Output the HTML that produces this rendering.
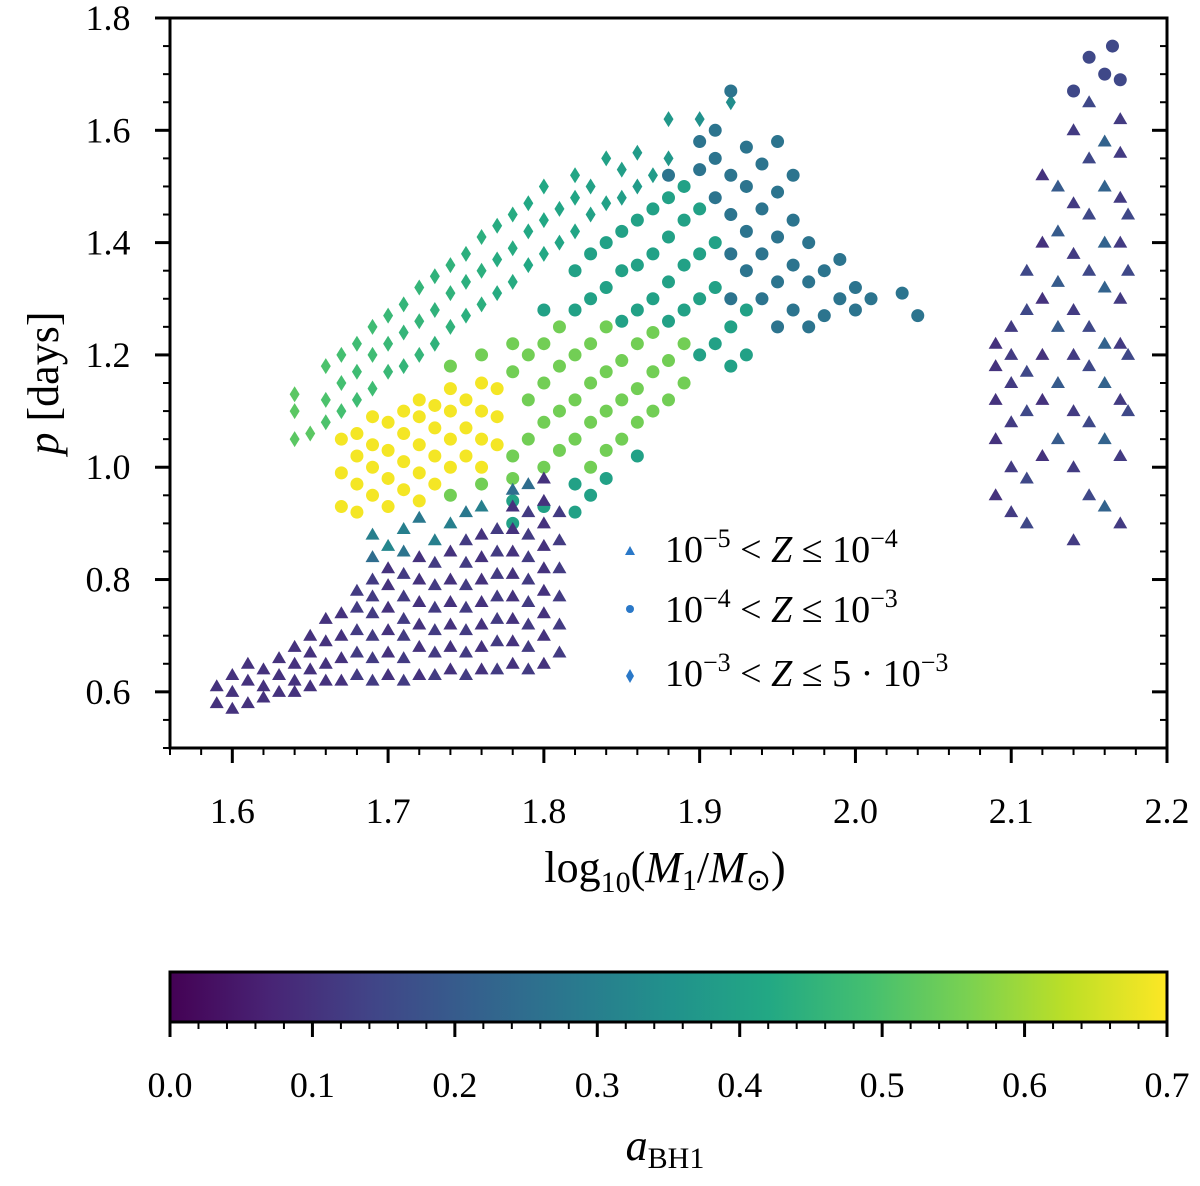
<!DOCTYPE html>
<html><head><meta charset="utf-8"><style>
body{margin:0;background:#fff;}
svg text{font-family:"Liberation Serif",serif;fill:#000;}
</style></head><body>
<svg id="chart" width="1200" height="1181" xmlns="http://www.w3.org/2000/svg">
<g id="marks"></g>
<g id="axes"></g>
<defs><linearGradient id="vir" x1="0" x2="1" y1="0" y2="0">
<stop offset="0" stop-color="#440154"/><stop offset="0.1" stop-color="#482475"/><stop offset="0.2" stop-color="#414487"/><stop offset="0.3" stop-color="#355f8d"/><stop offset="0.4" stop-color="#2a788e"/><stop offset="0.5" stop-color="#21918c"/><stop offset="0.6" stop-color="#22a884"/><stop offset="0.7" stop-color="#44bf70"/><stop offset="0.8" stop-color="#7ad151"/><stop offset="0.9" stop-color="#bddf26"/><stop offset="1" stop-color="#fde725"/></linearGradient></defs>
<rect x="170" y="972" width="997" height="50" fill="url(#vir)" stroke="#000" stroke-width="3"/>
<g id="legend">
<polygon points="625,555 630,546 635,555" fill="#2a78c8"/>
<circle cx="630" cy="609" r="4" fill="#2a78c8"/>
<polygon points="630,669 634,676 630,683 626,676" fill="#2a78c8"/>
<text x="665" y="562" font-size="38">10<tspan dy="-15" font-size="26">−5</tspan><tspan dy="15"> &lt; <tspan font-style="italic">Z</tspan> ≤ 10</tspan><tspan dy="-15" font-size="26">−4</tspan></text>
<text x="665" y="622" font-size="38">10<tspan dy="-15" font-size="26">−4</tspan><tspan dy="15"> &lt; <tspan font-style="italic">Z</tspan> ≤ 10</tspan><tspan dy="-15" font-size="26">−3</tspan></text>
<text x="665" y="686" font-size="38">10<tspan dy="-15" font-size="26">−3</tspan><tspan dy="15"> &lt; <tspan font-style="italic">Z</tspan> ≤ 5 · 10</tspan><tspan dy="-15" font-size="26">−3</tspan></text>
</g>
<text x="665" y="882" font-size="44" text-anchor="middle">log<tspan dy="10" font-size="30">10</tspan><tspan dy="-10">(<tspan font-style="italic">M</tspan><tspan dy="8" font-size="30">1</tspan><tspan dy="-8">/</tspan><tspan font-style="italic">M</tspan><tspan dy="8" font-size="30">⊙</tspan><tspan dy="-8">)</tspan></tspan></text>
<text transform="translate(58,383) rotate(-90)" font-size="44" text-anchor="middle"><tspan font-style="italic">p</tspan> [days]</text>
<text x="665" y="1160" font-size="44" text-anchor="middle"><tspan font-style="italic">a</tspan><tspan dy="8" font-size="30">BH1</tspan></text>
</svg>
<script>
// ---- data ----
const triBandX=[1.59,1.60,1.61,1.62,1.63,1.64,1.65,1.66,1.67,1.68,1.69,1.70,1.71,1.72,1.73,1.74,1.75,1.76,1.77,1.78,1.79,1.80,1.81];
const triBandY=[[0.58,0.61],[0.57,0.60,0.63],[0.58,0.62,0.65],[0.59,0.61,0.64],[0.60,0.63,0.66],[0.60,0.62,0.65,0.68],[0.61,0.64,0.67,0.70],[0.62,0.65,0.69,0.73],[0.62,0.66,0.70,0.74],[0.63,0.67,0.71,0.75,0.78],[0.62,0.66,0.70,0.74,0.77,0.80],[0.63,0.67,0.71,0.75,0.79,0.82],[0.62,0.66,0.70,0.73,0.77,0.81],[0.63,0.68,0.72,0.76,0.80,0.84],[0.63,0.67,0.71,0.75,0.79,0.83],[0.64,0.68,0.72,0.76,0.80,0.85],[0.63,0.67,0.71,0.75,0.79,0.83,0.87],[0.64,0.68,0.72,0.76,0.80,0.84,0.88],[0.64,0.69,0.73,0.77,0.81,0.85,0.89],[0.65,0.69,0.73,0.77,0.81,0.85,0.89,0.93],[0.64,0.68,0.72,0.76,0.80,0.84,0.88,0.92],[0.65,0.70,0.74,0.78,0.82,0.86,0.90,0.94,0.98],[0.67,0.72,0.77,0.82,0.87,0.92]];
const triBandC=[0.1,0.1,0.1,0.1,0.1,0.1,0.1,0.1,0.1,0.12,0.12,0.1,0.12,0.1,0.12,0.1,0.12,0.1,0.12,0.1,0.12,0.1,0.12];
const triTealX=[1.69,1.69,1.70,1.71,1.71,1.72,1.73,1.74,1.75,1.76,1.78,1.79];
const triTealY=[0.88,0.84,0.86,0.89,0.85,0.91,0.87,0.90,0.92,0.93,0.96,0.97];
const triTealC=[0.3,0.25,0.32,0.3,0.27,0.28,0.3,0.3,0.28,0.3,0.25,0.25];
const triRightX=[2.09,2.10,2.11,2.12,2.13,2.14,2.15,2.16,2.17,2.175];
const triRightY=[[0.95,1.05,1.12,1.18,1.22],[0.92,1.00,1.08,1.15,1.20,1.25],[0.90,0.98,1.10,1.17,1.28,1.35],[1.02,1.12,1.20,1.30,1.40,1.52],[1.05,1.15,1.25,1.33,1.42,1.50],[0.87,1.00,1.10,1.20,1.28,1.38,1.47,1.60],[0.95,1.08,1.18,1.25,1.35,1.45,1.55,1.65],[0.93,1.05,1.15,1.22,1.32,1.40,1.50,1.58],[0.90,1.02,1.12,1.22,1.30,1.40,1.48,1.56,1.62],[1.10,1.20,1.35,1.45]];
const triRightC=[0.1,0.12,0.15,0.1,0.2,0.12,0.15,0.22,0.12,0.15];
const circX={yellow:[1.67,1.68,1.69,1.70,1.71,1.72,1.73,1.74,1.75,1.76,1.77],
 green:[1.74,1.76,1.78,1.79,1.80,1.81,1.82,1.83,1.84,1.85,1.86,1.87,1.88,1.89],
 teal:[1.78,1.80,1.82,1.83,1.84,1.85,1.86,1.87,1.88,1.89,1.90,1.91,1.92,1.93],
 blue:[1.88,1.90,1.91,1.92,1.93,1.94,1.95,1.96,1.97,1.98,1.99,2.00,2.01,2.03,2.04],
 right:[2.14,2.15,2.16,2.165,2.17]};
const circY={yellow:[[0.93,0.99,1.05],[0.92,0.97,1.02,1.06],[0.95,1.00,1.04,1.09],[0.93,0.98,1.03,1.08],[0.96,1.01,1.06,1.10],[0.94,0.99,1.04,1.09,1.12],[0.97,1.02,1.07,1.11],[1.00,1.05,1.10,1.14],[1.02,1.07,1.12],[1.00,1.05,1.10,1.15],[1.04,1.09,1.14]],
 green:[[0.95,1.18],[0.97,1.20],[0.98,1.02,1.17,1.22],[1.05,1.12,1.20],[1.00,1.08,1.15,1.22],[1.03,1.10,1.18,1.25],[1.05,1.12,1.20],[1.00,1.08,1.15,1.22],[1.03,1.10,1.17,1.25],[1.05,1.12,1.19],[1.08,1.14,1.22],[1.10,1.17,1.24],[1.12,1.19],[1.15,1.22]],
 teal:[[0.90,0.94],[0.93,1.28],[0.92,0.97,1.28,1.35],[0.95,1.30,1.38],[0.98,1.32,1.40],[1.26,1.35,1.42],[1.02,1.28,1.36,1.44],[1.30,1.38,1.46],[1.26,1.33,1.41,1.48],[1.28,1.36,1.44,1.50],[1.20,1.30,1.38,1.46],[1.22,1.32,1.40],[1.18,1.25],[1.20,1.28]],
 blue:[[1.52],[1.53,1.58],[1.48,1.55,1.60],[1.30,1.38,1.45,1.52,1.67],[1.35,1.42,1.50,1.57],[1.30,1.38,1.46,1.54],[1.25,1.33,1.41,1.49,1.58],[1.28,1.36,1.44,1.52],[1.25,1.33,1.40],[1.27,1.35],[1.30,1.37],[1.28,1.32],[1.30],[1.31],[1.27]],
 right:[[1.67],[1.73],[1.70],[1.75],[1.69]]};
const circC={yellow:0.69,green:0.55,teal:0.4,blue:0.27,right:0.15};
const diaX=[1.64,1.65,1.66,1.67,1.68,1.69,1.70,1.71,1.72,1.73,1.74,1.75,1.76,1.77,1.78,1.79,1.80,1.81,1.82,1.83,1.84,1.85,1.86,1.87,1.88,1.90,1.92];
const diaY=[[1.05,1.10,1.13],[1.06],[1.08,1.12,1.18],[1.10,1.15,1.20],[1.12,1.17,1.22],[1.14,1.20,1.25],[1.17,1.22,1.27],[1.18,1.24,1.29],[1.20,1.26,1.32],[1.22,1.28,1.34],[1.25,1.31,1.36],[1.27,1.33,1.38],[1.29,1.35,1.41],[1.31,1.37,1.43],[1.33,1.39,1.45],[1.36,1.42,1.47],[1.38,1.44,1.50],[1.40,1.46],[1.42,1.48,1.52],[1.45,1.50],[1.47,1.55],[1.48,1.53],[1.50,1.56],[1.52],[1.55,1.62],[1.62],[1.65]];
const diaC=[0.52,0.52,0.5,0.49,0.48,0.48,0.47,0.46,0.46,0.45,0.45,0.44,0.44,0.43,0.43,0.42,0.42,0.41,0.41,0.4,0.4,0.39,0.38,0.38,0.37,0.35,0.34];
const xTicks=[1.6,1.7,1.8,1.9,2.0,2.1,2.2];
const xTickLabels=["1.6","1.7","1.8","1.9","2.0","2.1","2.2"];
const yTicks=[0.6,0.8,1.0,1.2,1.4,1.6,1.8];
const yTickLabels=["0.6","0.8","1.0","1.2","1.4","1.6","1.8"];
const cTicks=[0,0.1,0.2,0.3,0.4,0.5,0.6,0.7];
const cTickLabels=["0.0","0.1","0.2","0.3","0.4","0.5","0.6","0.7"];

const X0=170,X1=1167,Y0=18,Y1=748;
const xs=v=>X0+(v-1.56)/(2.2-1.56)*(X1-X0);
const ys=v=>Y1-(v-0.5)/(1.8-0.5)*(Y1-Y0);
const cs=v=>X0+v/0.7*(X1-X0);
const VIR=["#440154","#482475","#414487","#355f8d","#2a788e","#21918c","#22a884","#44bf70","#7ad151","#bddf26","#fde725"];
function vir(c){let t=Math.max(0,Math.min(1,c/0.7))*10;let i=Math.min(9,Math.floor(t)),f=t-i;
 const a=VIR[i],b=VIR[i+1];const p=(s,k)=>parseInt(s.substr(k,2),16);
 const m=k=>Math.round(p(a,k)+(p(b,k)-p(a,k))*f);return `rgb(${m(1)},${m(3)},${m(5)})`;}
const NS="http://www.w3.org/2000/svg";
const marks=document.getElementById('marks'),axes=document.getElementById('axes');
function tri(x,y,c){const e=document.createElementNS(NS,'polygon');const X=xs(x),Y=ys(y);
 e.setAttribute('points',`${X-7},${Y+5} ${X},${Y-7} ${X+7},${Y+5}`);e.setAttribute('fill',vir(c));
 
 
 marks.appendChild(e);}
function circ(x,y,c){const e=document.createElementNS(NS,'circle');
 e.setAttribute('cx',xs(x));e.setAttribute('cy',ys(y));e.setAttribute('r',6.5);e.setAttribute('fill',vir(c));
 
 
 marks.appendChild(e);}
function dia(x,y,c){const e=document.createElementNS(NS,'polygon');const X=xs(x),Y=ys(y);
 e.setAttribute('points',`${X},${Y-8} ${X+5},${Y} ${X},${Y+8} ${X-5},${Y}`);e.setAttribute('fill',vir(c));
 
 
 marks.appendChild(e);}
diaX.forEach((x,i)=>diaY[i].forEach(y=>dia(x,y,diaC[i])));
for(const g in circX){circX[g].forEach((x,i)=>circY[g][i].forEach(y=>circ(x,y,circC[g])));}
triBandX.forEach((x,i)=>triBandY[i].forEach(y=>tri(x,y,triBandC[i])));
triTealX.forEach((x,i)=>tri(x,triTealY[i],triTealC[i]));
triRightX.forEach((x,i)=>triRightY[i].forEach(y=>tri(x,y,triRightC[i])));

function line(x1,y1,x2,y2,w,name){const e=document.createElementNS(NS,'line');
 e.setAttribute('x1',x1);e.setAttribute('y1',y1);e.setAttribute('x2',x2);e.setAttribute('y2',y2);
 e.setAttribute('stroke','#000');e.setAttribute('stroke-width',w);
 
 
 axes.appendChild(e);}
function txt(x,y,s,name){const e=document.createElementNS(NS,'text');e.setAttribute('x',x);e.setAttribute('y',y);
 e.setAttribute('font-size','36');e.setAttribute('text-anchor','middle');e.textContent=s;
 
 
 axes.appendChild(e);}
const frame=document.createElementNS(NS,'rect');
frame.setAttribute('x',X0);frame.setAttribute('y',Y0);frame.setAttribute('width',X1-X0);frame.setAttribute('height',Y1-Y0);
frame.setAttribute('fill','none');frame.setAttribute('stroke','#000');frame.setAttribute('stroke-width',3);


axes.appendChild(frame);
for(let k=0;k<=32;k++){const v=1.56+k*0.02;const X=xs(v);const major=Math.abs(v*10-Math.round(v*10))<1e-6;
 line(X,Y1,X,Y1+(major?15:7),major?3:2,'x-tick');}
xTicks.forEach((v,i)=>txt(xs(v),823,xTickLabels[i],'x-tick-label'));
for(let k=0;k<=26;k++){const v=0.5+k*0.05;const Y=ys(v);const major=Math.abs(v*5-Math.round(v*5))<1e-6;
 line(X0-(major?15:7),Y,X0,Y,major?3:2,'y-tick-left');line(X1-(major?15:7),Y,X1,Y,major?3:2,'y-tick-right');}
yTicks.forEach((v,i)=>{txt(108,ys(v)+12,yTickLabels[i],'y-tick-label');});
for(let k=0;k<=35;k++){const v=k*0.02;const X=cs(v);const major=Math.abs(v*10-Math.round(v*10))<1e-6;
 line(X,1022,X,1022+(major?15:7),major?3:2,'colorbar-tick');}
cTicks.forEach((v,i)=>txt(cs(v),1097,cTickLabels[i],'colorbar-tick-label'));
</script>
</body></html>
